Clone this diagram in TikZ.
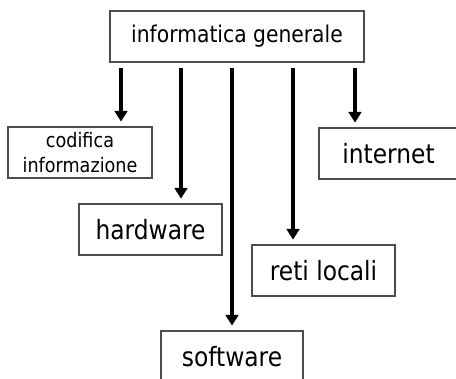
\documentclass[tikz,border=0pt]{standalone}
\usepackage{fontspec}
\setmainfont{DejaVu Sans}[FakeStretch=0.88]
\usepackage{tikz}
\usetikzlibrary{arrows.meta}

\tikzset{
  box/.style={draw=black!70, line width=1.1pt, inner sep=0pt, minimum height=38.25pt, align=center},
  big/.style={font=\fontsize{19.9}{24}\selectfont},
  link/.style={line width=2.4pt, -{Triangle[length=8pt,width=9.5pt]}, shorten <=3.75pt, shorten >=3.5pt}
}

\begin{document}
\begin{tikzpicture}[x=0.75pt, y=-0.75pt]
\useasboundingbox (0,0) rectangle (456,378);
\node[box, minimum width=190.5pt, font=\fontsize{17.3}{20}\selectfont] (info) at (237,36.5) {informatica generale};
\node[box, minimum width=108pt, font=\fontsize{15}{19}\selectfont] (cod) at (80,152.5) {codifica\\informazione};
\node[box, big, minimum width=104.25pt] (net) at (388.5,153.5) {internet};
\node[box, big, minimum width=107.25pt] (hw) at (150.5,229.5) {hardware};
\node[box, big, minimum width=107.25pt] (rl) at (323.5,270.5) {reti locali};
\node[box, big, minimum width=106.5pt] (sw) at (232,356.5) {software};
\foreach \x/\t in {121/cod, 181/hw, 232/sw, 293/rl, 355/net}
  \draw[link] (\x,0 |- info.south) -- (\x,0 |- \t.north);
\end{tikzpicture}
\end{document}
